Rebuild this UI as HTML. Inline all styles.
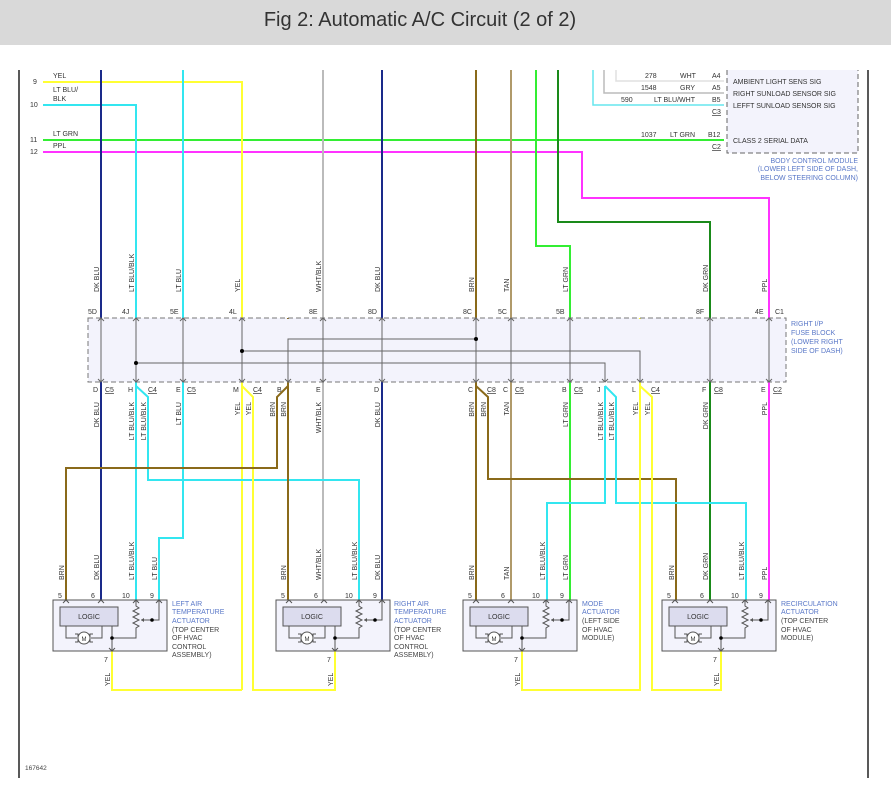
<!DOCTYPE html>
<html><head><meta charset="utf-8"><style>
body{margin:0;width:891px;height:788px;background:#fff;overflow:hidden;font-family:"Liberation Sans",sans-serif}
svg{position:absolute;left:0;top:0}
</style></head><body>
<svg width="891" height="788" xmlns="http://www.w3.org/2000/svg" font-family="Liberation Sans, sans-serif" font-size="7">
<rect x="0" y="0" width="891" height="45" fill="#d9d9d9"/>
<text x="420" y="26" font-size="20" text-anchor="middle" fill="#333">Fig 2: Automatic A/C Circuit (2 of 2)</text>
<line x1="19" y1="70" x2="19" y2="778" stroke="#222" stroke-width="1.5"/>
<line x1="868" y1="70" x2="868" y2="778" stroke="#222" stroke-width="1.5"/>
<text x="25" y="770" fill="#444" font-size="6.5">167642</text>

<!-- BCM -->
<path d="M727 70 V153 H858 V70" fill="#f3f3fc" stroke="#666" stroke-dasharray="5,3"/>
<g fill="#333">
<text x="733" y="84">AMBIENT LIGHT SENS SIG</text>
<text x="733" y="96">RIGHT SUNLOAD SENSOR SIG</text>
<text x="733" y="108">LEFFT SUNLOAD SENSOR SIG</text>
<text x="733" y="143">CLASS 2 SERIAL DATA</text>
<text x="645" y="78">278</text><text x="680" y="78">WHT</text><text x="712" y="78">A4</text>
<text x="641" y="90">1548</text><text x="680" y="90">GRY</text><text x="712" y="90">A5</text>
<text x="621" y="102">590</text><text x="654" y="102">LT BLU/WHT</text><text x="712" y="102">B5</text>
<text x="712" y="114" text-decoration="underline">C3</text>
<text x="641" y="137">1037</text><text x="670" y="137">LT GRN</text><text x="708" y="137">B12</text>
<text x="712" y="149" text-decoration="underline">C2</text>
</g>
<g fill="#5a78c8" text-anchor="end">
<text x="858" y="163">BODY CONTROL MODULE</text>
<text x="858" y="171">(LOWER LEFT SIDE OF DASH,</text>
<text x="858" y="180">BELOW STEERING COLUMN)</text>
</g>
<g fill="none" stroke-width="1.5">
<path d="M616 70 V81 H724" stroke="#e0e0e0"/>
<path d="M604 70 V93 H724" stroke="#bbb"/>
<path d="M593 70 V105 H724" stroke="#66e6ee"/>
</g>

<!-- fuse block -->
<rect x="88" y="318" width="698" height="64" fill="#f3f3fc" stroke="#777" stroke-dasharray="5,3"/>
<g fill="#5a78c8"><text x="791" y="326">RIGHT I/P</text><text x="791" y="335">FUSE BLOCK</text><text x="791" y="344">(LOWER RIGHT</text><text x="791" y="353">SIDE OF DASH)</text></g>
<g stroke="#666" stroke-width="1" fill="none">
<path d="M101 318V382M136 318V382M183 318V382M242 318V382M323 318V382M382 318V382M476 318V382M511 318V382M570 318V382M710 318V382M769 318V382"/>
<path d="M288 382V339H476M242 351H640V382M136 363H605V382"/>
</g>
<g fill="#000"><circle cx="476" cy="339" r="2"/><circle cx="242" cy="351" r="2"/><circle cx="136" cy="363" r="2"/></g>
<g fill="#333">
<text x="88" y="314">5D</text><text x="122" y="314">4J</text><text x="170" y="314">5E</text><text x="229" y="314">4L</text><text x="309" y="314">8E</text><text x="368" y="314">8D</text><text x="463" y="314">8C</text><text x="498" y="314">5C</text><text x="556" y="314">5B</text><text x="696" y="314">8F</text><text x="755" y="314">4E</text><text x="775" y="314">C1</text>
<text x="93" y="392">D</text><text x="105" y="392" text-decoration="underline">C5</text>
<text x="128" y="392">H</text><text x="148" y="392" text-decoration="underline">C4</text>
<text x="176" y="392">E</text><text x="187" y="392" text-decoration="underline">C5</text>
<text x="233" y="392">M</text><text x="253" y="392" text-decoration="underline">C4</text>
<text x="277" y="392">B</text><text x="316" y="392">E</text><text x="374" y="392">D</text>
<text x="468" y="392">C</text><text x="487" y="392" text-decoration="underline">C8</text>
<text x="503" y="392">C</text><text x="515" y="392" text-decoration="underline">C5</text>
<text x="562" y="392">B</text><text x="574" y="392" text-decoration="underline">C5</text>
<text x="597" y="392">J</text><text x="632" y="392">L</text><text x="651" y="392" text-decoration="underline">C4</text>
<text x="702" y="392">F</text><text x="714" y="392" text-decoration="underline">C8</text>
<text x="761" y="392">E</text><text x="773" y="392" text-decoration="underline">C2</text>
</g>

<!-- left labels -->
<g fill="#333"><text x="33" y="84">9</text><text x="30" y="107">10</text><text x="30" y="142">11</text><text x="30" y="154">12</text>
<text x="53" y="78">YEL</text><text x="53" y="92">LT BLU/</text><text x="53" y="101">BLK</text><text x="53" y="136">LT GRN</text><text x="53" y="148">PPL</text></g>

<!-- wires -->
<g fill="none" stroke-width="2">
<path d="M43 140H724" stroke="#33ee33"/>
<path d="M43 152H582V198H769V386V600" stroke="#ff33ff"/>
<path d="M43 82H242V690" stroke="#ffff33"/>
<path d="M43 105H136V600" stroke="#33e6f0"/>
<path d="M101 70V600" stroke="#1a2a8a"/>
<path d="M183 70V538H159V600" stroke="#33e6f0"/>
<path d="M323 70V600" stroke="#bbb"/>
<path d="M382 70V600" stroke="#1a2a8a"/>
<path d="M476 70V600" stroke="#8a6a1a"/>
<path d="M511 70V600" stroke="#b09a6a"/>
<path d="M536 70V246H570V600" stroke="#33ee33"/>
<path d="M558 70V222H710V600" stroke="#1a8a1a"/>
<path d="M136 386L148 397V480H359V600" stroke="#33e6f0"/>
<path d="M242 386L253 397V690H335V651" stroke="#ffff33"/>
<path d="M242 690H112V651" stroke="#ffff33"/>
<path d="M288 318V600M288 386L277 397V468H66V600" stroke="#8a6a1a"/>
<path d="M476 386L488 397V479H676V600" stroke="#8a6a1a"/>
<path d="M605 386V503H547V600M605 386L616 397V503H746V600" stroke="#33e6f0"/>
<path d="M640 318V690H522V651M640 386L652 397V690H721V651" stroke="#ffff33"/>
</g>
<!-- fix fuse interior: gray drawn over -->
<rect x="89" y="319" width="696" height="62" fill="#f3f3fc"/>
<g stroke="#666" stroke-width="1" fill="none">
<path d="M101 318V382M136 318V382M183 318V382M242 318V382M323 318V382M382 318V382M476 318V382M511 318V382M570 318V382M710 318V382M769 318V382"/>
<path d="M288 382V339H476M242 351H640V382M136 363H605V382"/>
</g>
<g fill="#000"><circle cx="476" cy="339" r="2"/><circle cx="242" cy="351" r="2"/><circle cx="136" cy="363" r="2"/></g>
<rect x="88" y="318" width="698" height="64" fill="none" stroke="#777" stroke-dasharray="5,3"/>
<g fill="none" stroke="#666" stroke-width="1">
<path d="M98 321l3-3 3 3M133 321l3-3 3 3M180 321l3-3 3 3M239 321l3-3 3 3M320 321l3-3 3 3M379 321l3-3 3 3M473 321l3-3 3 3M508 321l3-3 3 3M567 321l3-3 3 3M707 321l3-3 3 3M766 321l3-3 3 3"/>
<path d="M98 379l3 3 3-3M133 379l3 3 3-3M180 379l3 3 3-3M239 379l3 3 3-3M285 379l3 3 3-3M320 379l3 3 3-3M379 379l3 3 3-3M473 379l3 3 3-3M508 379l3 3 3-3M567 379l3 3 3-3M602 379l3 3 3-3M637 379l3 3 3-3M707 379l3 3 3-3M766 379l3 3 3-3"/>
</g>

<!-- rotated labels -->
<g fill="#333">
<g id="top">
<text transform="translate(99,292) rotate(-90)">DK BLU</text>
<text transform="translate(134,292) rotate(-90)">LT BLU/BLK</text>
<text transform="translate(181,292) rotate(-90)">LT BLU</text>
<text transform="translate(240,292) rotate(-90)">YEL</text>
<text transform="translate(321,292) rotate(-90)">WHT/BLK</text>
<text transform="translate(380,292) rotate(-90)">DK BLU</text>
<text transform="translate(474,292) rotate(-90)">BRN</text>
<text transform="translate(509,292) rotate(-90)">TAN</text>
<text transform="translate(568,292) rotate(-90)">LT GRN</text>
<text transform="translate(708,292) rotate(-90)">DK GRN</text>
<text transform="translate(767,292) rotate(-90)">PPL</text>
</g>
<g text-anchor="end">
<text transform="translate(99,402) rotate(-90)">DK BLU</text>
<text transform="translate(134,402) rotate(-90)">LT BLU/BLK</text>
<text transform="translate(146,402) rotate(-90)">LT BLU/BLK</text>
<text transform="translate(181,402) rotate(-90)">LT BLU</text>
<text transform="translate(240,402) rotate(-90)">YEL</text>
<text transform="translate(251,402) rotate(-90)">YEL</text>
<text transform="translate(275,402) rotate(-90)">BRN</text>
<text transform="translate(286,402) rotate(-90)">BRN</text>
<text transform="translate(321,402) rotate(-90)">WHT/BLK</text>
<text transform="translate(380,402) rotate(-90)">DK BLU</text>
<text transform="translate(474,402) rotate(-90)">BRN</text>
<text transform="translate(486,402) rotate(-90)">BRN</text>
<text transform="translate(509,402) rotate(-90)">TAN</text>
<text transform="translate(568,402) rotate(-90)">LT GRN</text>
<text transform="translate(603,402) rotate(-90)">LT BLU/BLK</text>
<text transform="translate(614,402) rotate(-90)">LT BLU/BLK</text>
<text transform="translate(638,402) rotate(-90)">YEL</text>
<text transform="translate(650,402) rotate(-90)">YEL</text>
<text transform="translate(708,402) rotate(-90)">DK GRN</text>
<text transform="translate(767,402) rotate(-90)">PPL</text>
</g>
<text transform="translate(64,580) rotate(-90)">BRN</text>
<text transform="translate(99,580) rotate(-90)">DK BLU</text>
<text transform="translate(134,580) rotate(-90)">LT BLU/BLK</text>
<text transform="translate(157,580) rotate(-90)">LT BLU</text>
<text transform="translate(286,580) rotate(-90)">BRN</text>
<text transform="translate(321,580) rotate(-90)">WHT/BLK</text>
<text transform="translate(357,580) rotate(-90)">LT BLU/BLK</text>
<text transform="translate(380,580) rotate(-90)">DK BLU</text>
<text transform="translate(474,580) rotate(-90)">BRN</text>
<text transform="translate(509,580) rotate(-90)">TAN</text>
<text transform="translate(545,580) rotate(-90)">LT BLU/BLK</text>
<text transform="translate(568,580) rotate(-90)">LT GRN</text>
<text transform="translate(674,580) rotate(-90)">BRN</text>
<text transform="translate(708,580) rotate(-90)">DK GRN</text>
<text transform="translate(744,580) rotate(-90)">LT BLU/BLK</text>
<text transform="translate(767,580) rotate(-90)">PPL</text>
<text transform="translate(110,686) rotate(-90)">YEL</text>
<text transform="translate(333,686) rotate(-90)">YEL</text>
<text transform="translate(520,686) rotate(-90)">YEL</text>
<text transform="translate(719,686) rotate(-90)">YEL</text>
</g>

<!-- actuators -->
<defs>
<g id="act">
<rect x="0" y="0" width="114" height="51" fill="#f3f3fc" stroke="#555"/>
<rect x="7" y="7" width="58" height="19" fill="#dcdcee" stroke="#555"/>
<text x="36" y="19" text-anchor="middle" fill="#333">LOGIC</text>
<path d="M13 26V38H24M49 26V38H38" fill="none" stroke="#555"/>
<circle cx="31" cy="38" r="6" fill="#fff" stroke="#555"/>
<text x="31" y="41" text-anchor="middle" fill="#333" font-size="6">M</text>
<path d="M22 34h3v8h-3M40 34h-3v8h3" fill="none" stroke="#555"/>
<path d="M83 0V6l3 2-6 3 6 3-6 3 6 3-6 3 6 3-3 2V38H59V26M59 38V51M106 0V20H88" fill="none" stroke="#555"/>
<path d="M88 20l3-2v4z" fill="#555"/>
<circle cx="59" cy="38" r="1.8" fill="#000"/><circle cx="99" cy="20" r="1.8" fill="#000"/>
<path d="M10 3l3-3 3 3M45 3l3-3 3 3M80 3l3-3 3 3M103 3l3-3 3 3M56 48l3 3 3-3" fill="none" stroke="#555"/>
</g>
</defs>
<g fill="#333">
<use href="#act" x="53" y="600"/><use href="#act" x="276" y="600"/><use href="#act" x="463" y="600"/><use href="#act" x="662" y="600"/>
<text x="58" y="598">5</text><text x="91" y="598">6</text><text x="122" y="598">10</text><text x="150" y="598">9</text><text x="104" y="662">7</text>
<text x="281" y="598">5</text><text x="314" y="598">6</text><text x="345" y="598">10</text><text x="373" y="598">9</text><text x="327" y="662">7</text>
<text x="468" y="598">5</text><text x="501" y="598">6</text><text x="532" y="598">10</text><text x="560" y="598">9</text><text x="514" y="662">7</text>
<text x="667" y="598">5</text><text x="700" y="598">6</text><text x="731" y="598">10</text><text x="759" y="598">9</text><text x="713" y="662">7</text>
</g>
<g fill="#5a78c8">
<text x="172" y="606">LEFT AIR</text><text x="172" y="614">TEMPERATURE</text><text x="172" y="623">ACTUATOR</text>
<text x="172" y="632" fill="#444">(TOP CENTER</text><text x="172" y="640" fill="#444">OF HVAC</text><text x="172" y="649" fill="#444">CONTROL</text><text x="172" y="657" fill="#444">ASSEMBLY)</text>
<text x="394" y="606">RIGHT AIR</text><text x="394" y="614">TEMPERATURE</text><text x="394" y="623">ACTUATOR</text>
<text x="394" y="632" fill="#444">(TOP CENTER</text><text x="394" y="640" fill="#444">OF HVAC</text><text x="394" y="649" fill="#444">CONTROL</text><text x="394" y="657" fill="#444">ASSEMBLY)</text>
<text x="582" y="606">MODE</text><text x="582" y="614">ACTUATOR</text>
<text x="582" y="623" fill="#444">(LEFT SIDE</text><text x="582" y="632" fill="#444">OF HVAC</text><text x="582" y="640" fill="#444">MODULE)</text>
<text x="781" y="606">RECIRCULATION</text><text x="781" y="614">ACTUATOR</text>
<text x="781" y="623" fill="#444">(TOP CENTER</text><text x="781" y="632" fill="#444">OF HVAC</text><text x="781" y="640" fill="#444">MODULE)</text>
</g>
</svg>
</body></html>
